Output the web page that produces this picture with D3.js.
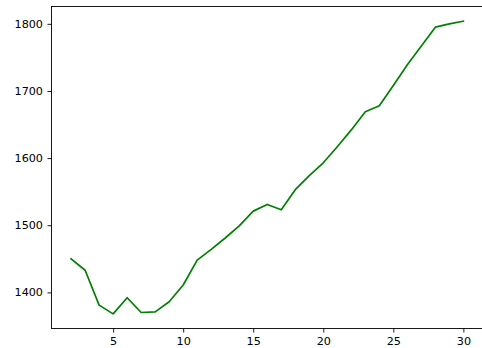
<!DOCTYPE html>
<html>
<head>
<meta charset="utf-8">
<script src="https://cdn.jsdelivr.net/npm/d3@7"></script>
<style>
  html, body { margin: 0; padding: 0; background: #fff; }
  svg { display: block; }
  .tick text { font-family: "DejaVu Sans", sans-serif; font-size: 11.2px; fill: #000; }
</style>
</head>
<body>
<svg id="chart" width="482" height="348"></svg>
<script>
// Series: x positions and measured values
const xValues = [2, 3, 4, 5, 6, 7, 8, 9, 10, 11, 12, 13, 14, 15, 16, 17, 18, 19, 20, 21, 22, 23, 24, 25, 26, 27, 28, 29, 30];
const yValues = [1450, 1433, 1381, 1368, 1392, 1370, 1371, 1386, 1411, 1448, 1464, 1481, 1499, 1521, 1531, 1523, 1553, 1574, 1593, 1617, 1642, 1669, 1678, 1708, 1739, 1767, 1795, 1800, 1804];
const xTicks = [5, 10, 15, 20, 25, 30];
const yTicks = [1400, 1500, 1600, 1700, 1800];

const svg = d3.select("#chart");
const plot = { left: 51.5, right: 483, top: 6.5, bottom: 328.5 };

// 5% padding on both axes, like matplotlib's default autoscale margins
function padded(values) {
  const [lo, hi] = d3.extent(values);
  const m = (hi - lo) * 0.05;
  return [lo - m, hi + m];
}

const x = d3.scaleLinear().domain(padded(xValues)).range([plot.left, plot.right]);
const y = d3.scaleLinear().domain(padded(yValues)).range([plot.bottom, plot.top]);

// Line
const line = d3.line().x((d, i) => x(xValues[i])).y(d => y(d));
svg.append("path")
  .datum(yValues)
  .attr("d", line)
  .attr("fill", "none")
  .attr("stroke", "#008000")
  .attr("stroke-width", 1.7)
  .attr("stroke-linejoin", "round")
  .attr("stroke-linecap", "square");

// Axes
const xAxis = d3.axisBottom(x).tickValues(xTicks).tickFormat(d3.format("d"))
  .tickSize(4).tickSizeOuter(0).tickPadding(4.5);
const yAxis = d3.axisLeft(y).tickValues(yTicks).tickFormat(d3.format("d"))
  .tickSize(4).tickSizeOuter(0).tickPadding(4.5);

const gx = svg.append("g").attr("transform", `translate(0,${plot.bottom})`).call(xAxis);
const gy = svg.append("g").attr("transform", `translate(${plot.left},0)`).call(yAxis);
[gx, gy].forEach(g => {
  g.select(".domain").remove();
  g.selectAll(".tick line").attr("stroke", "#000").attr("stroke-width", 0.9);
});

// Frame (spines)
svg.append("rect")
  .attr("x", plot.left).attr("y", plot.top)
  .attr("width", plot.right - plot.left).attr("height", plot.bottom - plot.top)
  .attr("fill", "none").attr("stroke", "#000").attr("stroke-width", 0.9);
</script>
</body>
</html>
